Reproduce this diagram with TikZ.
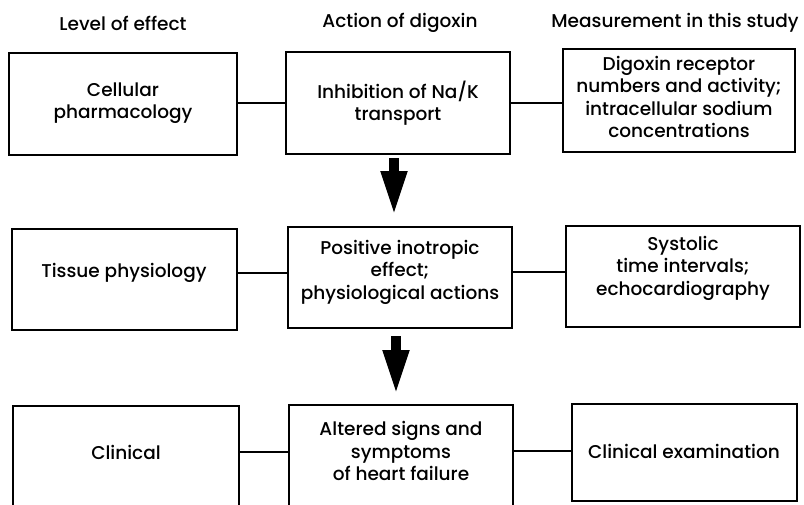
\documentclass[tikz,border=0pt]{standalone}
\usepackage{fontspec}
\setmainfont{Poppins Medium}
\usetikzlibrary{arrows.meta}
\begin{document}
\begin{tikzpicture}[x=1pt,y=-1pt,
  box/.style={draw,line width=1.6pt,inner sep=0pt},
  hdr/.style={inner sep=0pt,font=\fontsize{18.5}{20}\selectfont},
  txt/.style={align=center,inner sep=0pt,font=\fontsize{18.5}{22.5}\selectfont},
  link/.style={line width=1.6pt},
  bigarrow/.style={line width=10pt,-{Triangle[width=24pt,length=45pt]}}]
\useasboundingbox (0,0) rectangle (804,504);
\clip (0,0) rectangle (804,504);
% headers
\node[hdr] (h1) at (123,23) {Level of effect};
\node[hdr] (h2) at (400,23) {Action of digoxin};
\node[hdr] (h3) at (675,23) {Measurement in this study};
% boxes
\node[box,minimum width=228pt,minimum height=102pt] (b1) at (123,104) {};
\node[box,minimum width=224pt,minimum height=102pt] (b2) at (398,103) {};
\node[box,minimum width=232pt,minimum height=103pt] (b3) at (679,100.5) {};
\node[box,minimum width=225pt,minimum height=101pt] (b4) at (124.5,279.5) {};
\node[box,minimum width=224pt,minimum height=101pt] (b5) at (400,277.5) {};
\node[box,minimum width=234pt,minimum height=101pt] (b6) at (683,276.5) {};
\node[box,minimum width=226pt,minimum height=154pt] (b7) at (126,483) {};
\node[box,minimum width=224pt,minimum height=155pt] (b8) at (401,482.5) {};
\node[box,minimum width=225pt,minimum height=97pt] (b9) at (684.5,452.5) {};
% texts
\node[txt] (t1) at (123,103) {Cellular\\pharmacology};
\node[txt] (t2) at (398,103) {Inhibition of Na/K\\transport};
\node[txt] (t3) at (679,97) {Digoxin receptor\\numbers and activity;\\intracellular sodium\\concentrations};
\node[txt] (t4) at (124,273) {Tissue physiology};
\node[txt] (t5) at (400,272) {Positive inotropic\\effect;\\physiological actions};
\node[txt] (t6) at (683,268) {Systolic\\time intervals;\\echocardiography};
\node[txt] (t7) at (126,452) {Clinical};
\node[txt] (t8) at (401,451) {Altered signs and\\symptoms\\of heart failure};
\node[txt] (t9) at (684,451) {Clinical examination};
% connectors
\draw[link] (b1.east |- t1) -- (t1 -| b2.west);
\draw[link] (b2.east |- t2) -- (t2 -| b3.west);
\draw[link] (b4.east |- t4) -- (t4 -| b5.west);
\draw[link] (b5.east |- t5) -- (t5 -| b6.west);
\draw[link] (b7.east |- t7) -- (t7 -| b8.west);
\draw[link] (b8.east |- t8) -- (t8 -| b9.west);
% arrows
\coordinate (a1s) at (394,158);
\coordinate (a1e) at (394,216);
\coordinate (a2s) at (396,336);
\coordinate (a2e) at (396,395);
\draw[bigarrow] (a1s) -- (a1e);
\draw[bigarrow] (a2s) -- (a2e);
\end{tikzpicture}
\end{document}
